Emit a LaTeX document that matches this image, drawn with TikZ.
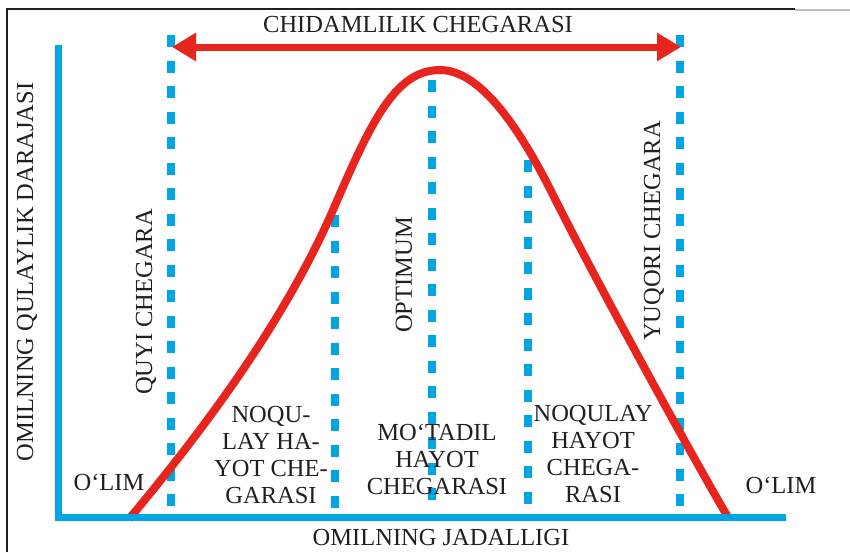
\documentclass[tikz,border=0pt]{standalone}
\usepackage{fontspec}
\setmainfont{Liberation Serif}
\usetikzlibrary{arrows.meta}
\definecolor{axblue}{RGB}{0,166,228}
\definecolor{curvered}{RGB}{232,36,30}
\definecolor{inkc}{RGB}{35,31,32}
\begin{document}
\begin{tikzpicture}[x=1pt,y=-1pt,
  lbl/.style={font=\fontsize{24.5}{27}\selectfont, inner sep=0pt, text=inkc},
  vlbl/.style={lbl, rotate=90},
  axisline/.style={draw=axblue, line width=7pt, line join=miter},
  guide/.style={draw=axblue, line width=7.5pt, dash pattern=on 12pt off 13.5pt},
  redline/.style={draw=curvered, line width=8pt},
  ends/.style={{Triangle[length=24pt,width=27pt]}-{Triangle[length=24pt,width=27pt]}}]
\useasboundingbox (0,0) rectangle (850,552);
\fill[white] (0,0) rectangle (850,552);
% frame
\draw[line width=1.2pt, inkc] (7,552) -- (7,9) -- (795,9);
\draw[line width=1.2pt, black!25] (795,10) -- (850,10);
% guide coordinates
\coordinate (g1t) at (171,35);  \coordinate (g1b) at (171,517);
\coordinate (g2t) at (335,215); \coordinate (g2b) at (335,517);
\coordinate (g3t) at (432,80);  \coordinate (g3b) at (432,517);
\coordinate (g4t) at (528,160); \coordinate (g4b) at (528,517);
\coordinate (g5t) at (680,35);  \coordinate (g5b) at (680,517);
\draw[guide] (g1t) -- (g1b);
\draw[guide] (g2t) -- (g2b);
\draw[guide] (g3t) -- (g3b);
\draw[guide] (g4t) -- (g4b);
\draw[guide] (g5t) -- (g5b);
% tolerance arrow
\coordinate (al) at (172,47);
\coordinate (ar) at (681,47);
\draw[redline, line width=7pt, ends] (al) -- (ar);
% curve
\coordinate (c0) at (129,519);
\coordinate (c1) at (333,210);
\coordinate (peak) at (440,70);
\coordinate (c3) at (553,195);
\coordinate (c4) at (729,519);
\draw[redline] (c0) .. controls (199,435) and (283,325) .. (c1)
  .. controls (371,122) and (395,70) .. (peak)
  .. controls (482,70) and (522,133) .. (c3)
  .. controls (593,275) and (689,451) .. (c4);
% axes
\coordinate (ytop) at (58.5,45);
\coordinate (orig) at (58.5,517);
\coordinate (xend) at (786,517);
\draw[axisline] (ytop) -- (orig) -- (xend);
% labels
\node[lbl] (title) at (418,25) {CHIDAMLILIK CHEGARASI};
\node[lbl] (xlab) at (441,537) {OMILNING JADALLIGI};
\node[vlbl] (ylab) at (27,272) {OMILNING QULAYLIK DARAJASI};
\node[vlbl] (quyi) at (146,302) {QUYI CHEGARA};
\node[vlbl] (opt) at (404,275) {OPTIMUM};
\node[vlbl] (yuq) at (654,231) {YUQORI CHEGARA};
\node[lbl] (olim1) at (109,482) {O‘LIM};
\node[lbl] (olim2) at (781,485) {O‘LIM};
\node[lbl, align=center] (nq1) at (271,455) {NOQU-\\LAY HA-\\YOT CHE-\\GARASI};
\node[lbl, align=center] (mt) at (437,459) {MO‘TADIL\\HAYOT\\CHEGARASI};
\node[lbl, align=center] (nq2) at (593,454) {NOQULAY\\HAYOT\\CHEGA-\\RASI};
\end{tikzpicture}
\end{document}
